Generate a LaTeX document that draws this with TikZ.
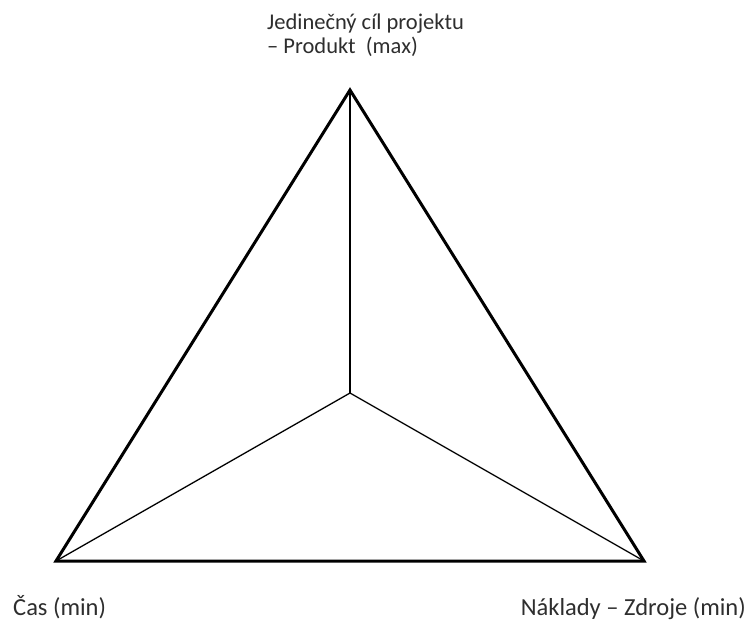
\documentclass[tikz,border=0pt]{standalone}
\usepackage{fontspec}
\setmainfont{Carlito}
\begin{document}
\begin{tikzpicture}[x=1pt,y=-1pt,
  outer/.style={line width=3pt, line join=miter},
  inner/.style={line width=1.3pt},
  lbl/.style={inner sep=0pt, text=black!82},
  toplbl/.style={lbl, font=\fontsize{22.5}{24}\selectfont},
  botlbl/.style={lbl, font=\fontsize{24.5}{26}\selectfont}]
\useasboundingbox[fill=white] (0,0) rectangle (748,621);
\coordinate (A) at (350,90);
\coordinate (B) at (56,561);
\coordinate (C) at (644,561);
\coordinate (O) at (350,393);
\draw[outer] (A) -- (B) -- (C) -- cycle;
\draw[inner] (O) -- (A);
\draw[inner] (O) -- (B);
\draw[inner] (O) -- (C);
\node[toplbl, anchor=base west, align=left] (top) at (267,53) {Jedinečný cíl projektu\\– Produkt\ \ (max)};
\node[botlbl, anchor=base west] (left) at (13,615) {Čas (min)};
\node[botlbl, anchor=base east] (right) at (746,615) {Náklady – Zdroje (min)};
\end{tikzpicture}
\end{document}
